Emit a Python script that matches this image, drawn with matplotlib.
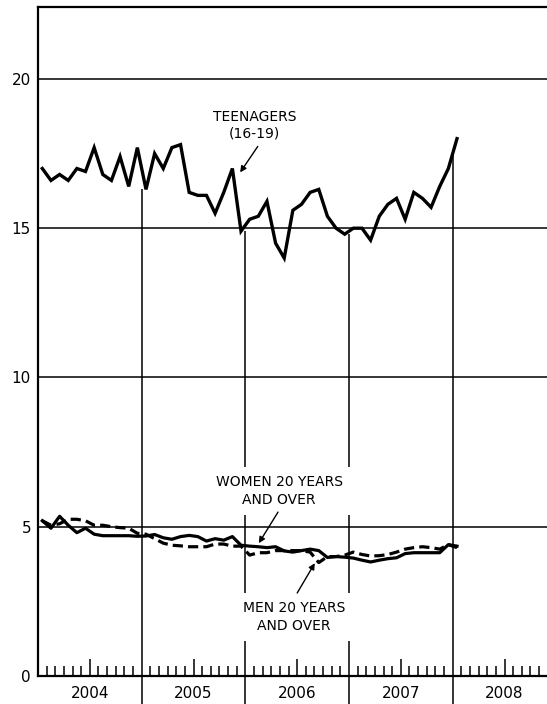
import numpy as np
import matplotlib
matplotlib.use("Agg")
import matplotlib.pyplot as plt

plt.rcParams['font.family'] = ['DejaVu Sans']

# ---------------- data (monthly, Jan 2004 - Jan 2008) ----------------
teenagers = [17.0, 16.6, 16.8, 16.6, 17.0, 16.9, 17.7, 16.8, 16.6, 17.4, 16.4, 17.7,
             16.3, 17.5, 17.0, 17.7, 17.8, 16.2, 16.1, 16.1, 15.5, 16.2, 17.0, 14.9,
             15.3, 15.4, 15.9, 14.5, 14.0, 15.6, 15.8, 16.2, 16.3, 15.4, 15.0, 14.8,
             15.0, 15.0, 14.6, 15.4, 15.8, 16.0, 15.3, 16.2, 16.0, 15.7, 16.4, 17.0,
             18.0]
women = [5.2, 4.95, 5.35, 5.05, 4.8, 4.95, 4.75, 4.7, 4.7, 4.7, 4.7, 4.68,
         4.69, 4.74, 4.63, 4.58, 4.67, 4.71, 4.67, 4.52, 4.6, 4.55, 4.67, 4.38,
         4.35, 4.33, 4.3, 4.33, 4.19, 4.15, 4.2, 4.25, 4.2, 3.97, 4.0, 3.98,
         3.95, 3.88, 3.82, 3.88, 3.93, 3.96, 4.1, 4.13, 4.13, 4.13, 4.13, 4.4,
         4.35]
men = [5.2, 5.05, 5.1, 5.25, 5.25, 5.2, 5.05, 5.05, 5.0, 4.97, 4.95, 4.78,
       4.75, 4.6, 4.45, 4.38, 4.36, 4.33, 4.33, 4.33, 4.42, 4.42, 4.35, 4.35,
       4.05, 4.13, 4.13, 4.2, 4.2, 4.2, 4.2, 4.15, 3.8, 4.0, 4.0, 4.05,
       4.15, 4.07, 4.02, 4.03, 4.07, 4.15, 4.25, 4.3, 4.33, 4.3, 4.25, 4.4,
       4.3]
years = [2004, 2005, 2006, 2007, 2008]
y_ticks = [0, 5, 10, 15, 20]
divider_tops = [16.3, 14.9, 14.8, 17.5]   # where the year dividers meet the teen line

months = 2004 + (np.arange(len(teenagers)) + 0.5) / 12.0

# ---------------- figure ----------------
W, H = 547, 704
fig = plt.figure(figsize=(W / 100, H / 100), dpi=100)
left_px, bottom_px, top_px = 38, 28, 7.3
ax = fig.add_axes([left_px / W, bottom_px / H, 1 - left_px / W, (H - bottom_px - top_px) / H])
ax.set_xlim(2004, 2004 + (W - left_px) / 103.67)
ax.set_ylim(0, 22.4)

for s in ['right']:
    ax.spines[s].set_visible(False)
for s in ['left', 'top', 'bottom']:
    ax.spines[s].set_linewidth(1.6)
    ax.spines[s].set_zorder(5)

# gridlines
for v in y_ticks[1:]:
    ax.axhline(v, color='black', lw=1.1, zorder=1)

# y ticks
ax.set_yticks(y_ticks)
ax.set_yticklabels([str(v) for v in y_ticks], fontsize=11)
ax.tick_params(axis='y', length=0, pad=5)
ax.set_xticks([])

# month ticks on the x axis
for y in years:
    for m in range(1, 12):
        h = 0.58 if m == 6 else 0.33
        ax.vlines(y + m / 12.0, 0, h, color='black', lw=1.1, zorder=3)

# year dividers inside the plot and below the axis
bounds = years[1:]
ax.vlines(bounds, 0, divider_tops, color='black', lw=1.1, zorder=1)
ax.vlines(bounds, -1.0, 0, color='black', lw=1.1, clip_on=False)
for y in years:
    ax.text(y + 0.5, -0.6, str(y), ha='center', va='center', fontsize=11, clip_on=False)

# series
ax.plot(months, teenagers, color='black', lw=2.4, solid_joinstyle='miter', zorder=4)
ax.plot(months, women, color='black', lw=2.3, zorder=4)
ax.plot(months, men, color='black', lw=2.3, ls=(0, (3.2, 1.6)), zorder=4)

# labels
arrow = dict(arrowstyle='-|>', lw=1.0, color='black', mutation_scale=9, shrinkA=0, shrinkB=0)
ax.text(2006.09, 18.44, 'TEENAGERS\n(16-19)', ha='center', va='center', fontsize=10,
        linespacing=1.25, zorder=6)
ax.annotate('', xy=(2005.95, 16.87), xytext=(2006.12, 17.74), arrowprops=arrow, zorder=6)

ax.text(2006.325, 6.19, 'WOMEN 20 YEARS\nAND OVER', ha='center', va='center', fontsize=10,
        linespacing=1.35, zorder=6,
        bbox=dict(boxstyle='square,pad=0.6', fc='white', ec='none'))
ax.annotate('', xy=(2006.13, 4.45), xytext=(2006.315, 5.49), arrowprops=arrow, zorder=6)

ax.text(2006.47, 1.97, 'MEN 20 YEARS\nAND OVER', ha='center', va='center', fontsize=10,
        linespacing=1.35, zorder=6,
        bbox=dict(boxstyle='square,pad=0.6', fc='white', ec='none'))
ax.annotate('', xy=(2006.67, 3.78), xytext=(2006.50, 2.78), arrowprops=arrow, zorder=6)

fig.savefig('out.png', dpi=100)
